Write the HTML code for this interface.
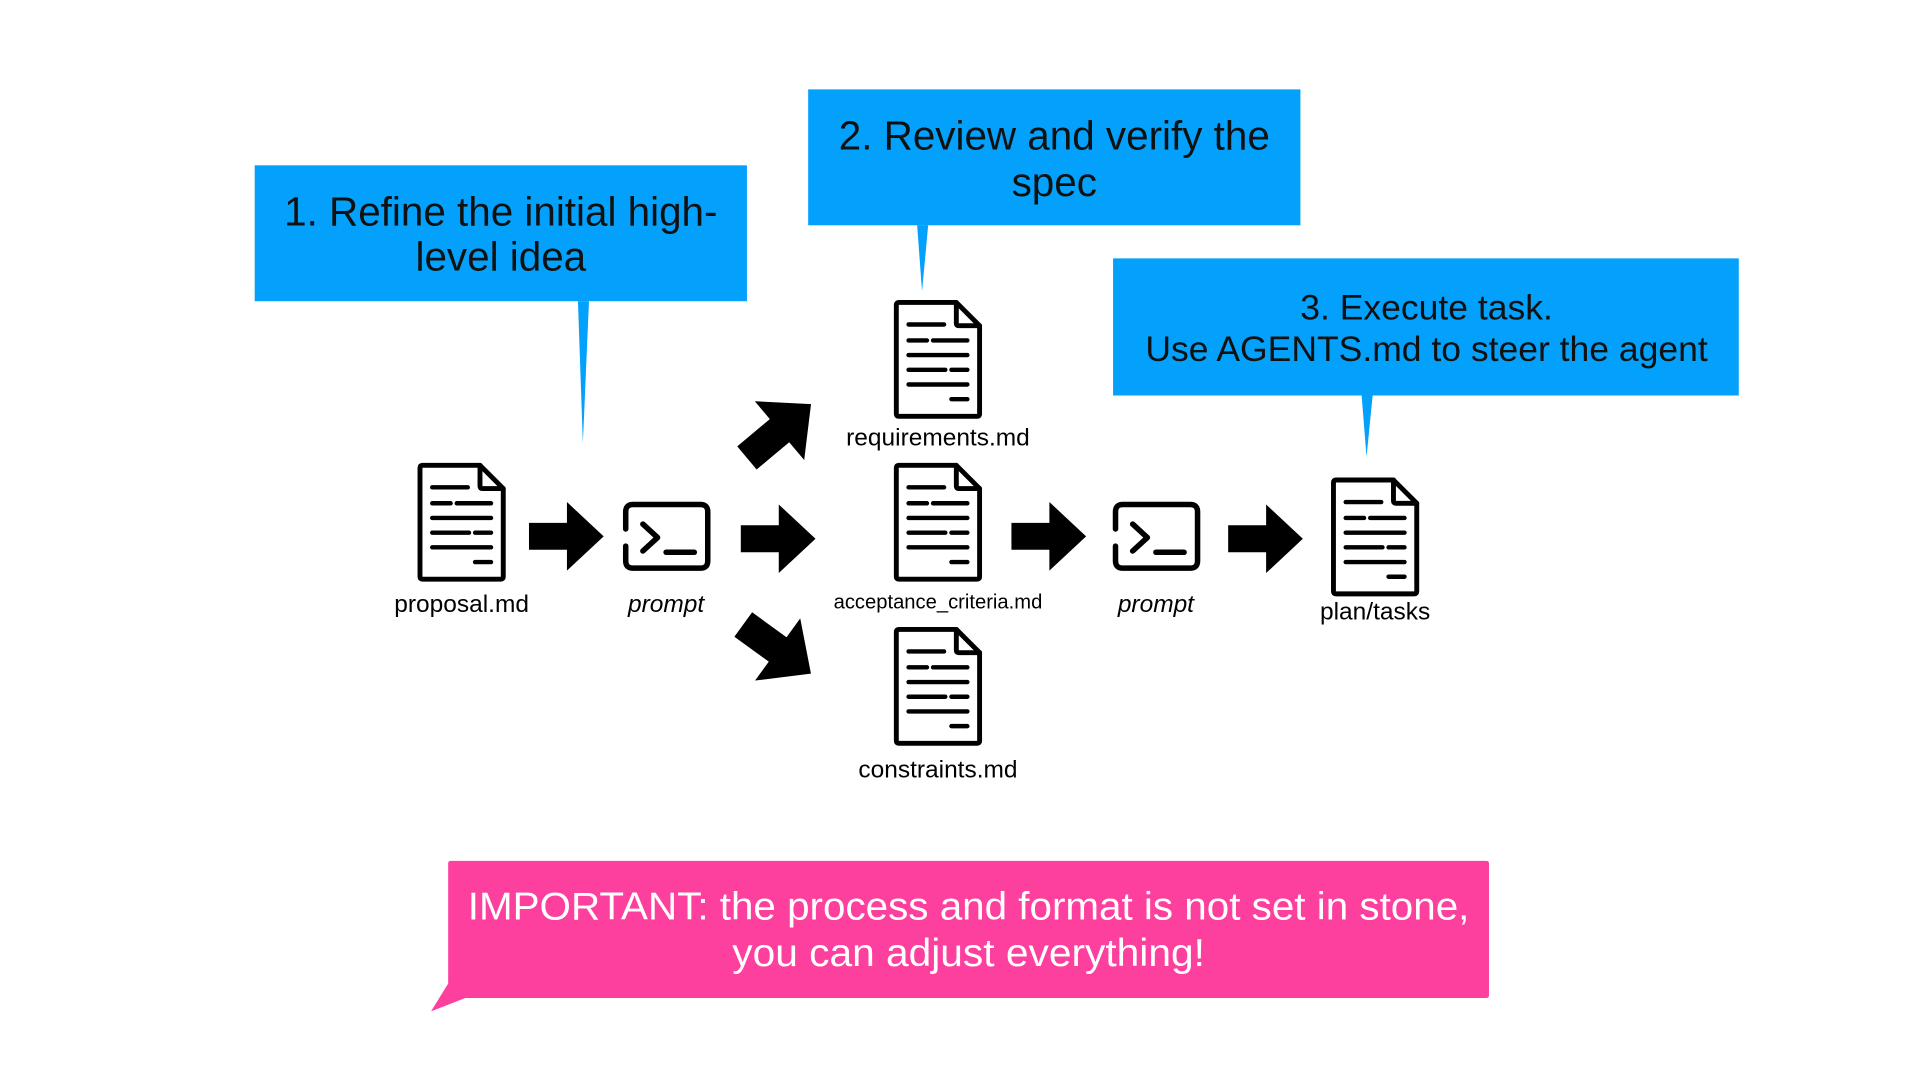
<!DOCTYPE html>
<html><head><meta charset="utf-8"><style>
html,body{margin:0;padding:0;background:#fff;width:1920px;height:1080px;overflow:hidden}
svg{display:block}
text{font-family:"Liberation Sans",sans-serif}
</style></head><body>
<svg width="1920" height="1080" viewBox="0 0 1568 882" preserveAspectRatio="none" xmlns="http://www.w3.org/2000/svg">
<defs>
<g id="doc" fill="none" stroke="#000" stroke-linecap="round" stroke-linejoin="round">
  <path d="M2,4 Q2,2 4,2 L51,2 L70,21 L70,93 Q70,95 68,95 L4,95 Q2,95 2,93 Z" stroke-width="4"/>
  <path d="M51,2 L51,19 Q51,21 53,21 L70,21" stroke-width="4"/>
  <g stroke-width="3.6">
    <path d="M12,20 H41"/>
    <path d="M12,33 H27 M32,33 H60"/>
    <path d="M12,45 H60"/>
    <path d="M12,57 H42 M47,57 H60"/>
    <path d="M12,69 H60"/>
    <path d="M47,81 H60"/>
  </g>
</g>
<g id="term" fill="none" stroke="#000" stroke-linecap="round" stroke-linejoin="round">
  <path d="M2,22 L2,8 Q2,2 8,2 L63,2 Q69,2 69,8 L69,48 Q69,54 63,54 L8,54 Q2,54 2,48 L2,36" stroke-width="4.5"/>
  <path d="M16,18 L28,29 L16,40" stroke-width="4.5"/>
  <path d="M35,41 H58" stroke-width="4.5"/>
</g>
<path id="arr" d="M0,-11 H31 V-28 L61,0 L31,28 V11 H0 Z" fill="#000"/>
</defs>

<rect x="208" y="135" width="402" height="111" fill="#03a1fb"/>
<polygon points="472,246 481,246 476,362" fill="#03a1fb"/>
<text x="409" y="184" font-size="33" text-anchor="middle" fill="#111">1. Refine the initial high-</text>
<text x="409" y="221" font-size="33" text-anchor="middle" fill="#111">level idea</text>

<rect x="660" y="73" width="402" height="111" fill="#03a1fb"/>
<polygon points="749,184 758,184 753,238" fill="#03a1fb"/>
<text x="861" y="122" font-size="33" text-anchor="middle" fill="#111">2. Review and verify the</text>
<text x="861" y="160" font-size="33" text-anchor="middle" fill="#111">spec</text>

<rect x="909" y="211" width="511" height="112" fill="#03a1fb"/>
<polygon points="1112,323 1121,323 1116,373" fill="#03a1fb"/>
<text x="1165" y="261" font-size="29" text-anchor="middle" fill="#111">3. Execute task.</text>
<text x="1165" y="295" font-size="29" text-anchor="middle" fill="#111">Use AGENTS.md to steer the agent</text>

<use href="#doc" x="341" y="378"/>
<text x="377" y="500" font-size="20" text-anchor="middle">proposal.md</text>
<use href="#term" x="509" y="410"/>
<text x="544" y="500" font-size="20" font-style="italic" text-anchor="middle">prompt</text>

<use href="#arr" transform="translate(432,438)"/>
<use href="#arr" transform="translate(605,440)"/>
<use href="#arr" transform="translate(610,374) rotate(-40) scale(1.12)"/>
<use href="#arr" transform="translate(607,510) rotate(36) scale(1.12)"/>

<use href="#doc" x="730" y="245"/>
<text x="766" y="364" font-size="20" text-anchor="middle">requirements.md</text>
<use href="#doc" x="730" y="378"/>
<text x="766" y="497" font-size="16.5" text-anchor="middle">acceptance_criteria.md</text>
<use href="#doc" x="730" y="512"/>
<text x="766" y="635" font-size="20" text-anchor="middle">constraints.md</text>

<use href="#arr" transform="translate(826,438)"/>
<use href="#term" x="909" y="410"/>
<text x="944" y="500" font-size="20" font-style="italic" text-anchor="middle">prompt</text>
<use href="#arr" transform="translate(1003,440)"/>
<use href="#doc" x="1087" y="390"/>
<text x="1123" y="506" font-size="20" text-anchor="middle">plan/tasks</text>

<rect x="366" y="703" width="850" height="112" rx="2" fill="#fd3f9e"/>
<polygon points="368,800 380,815 352,826" fill="#fd3f9e"/>
<text x="791" y="751" font-size="32" text-anchor="middle" fill="#fff" textLength="818" lengthAdjust="spacingAndGlyphs">IMPORTANT: the process and format is not set in stone,</text>
<text x="791" y="789" font-size="32" text-anchor="middle" fill="#fff" textLength="386" lengthAdjust="spacingAndGlyphs">you can adjust everything!</text>
</svg>
</body></html>
